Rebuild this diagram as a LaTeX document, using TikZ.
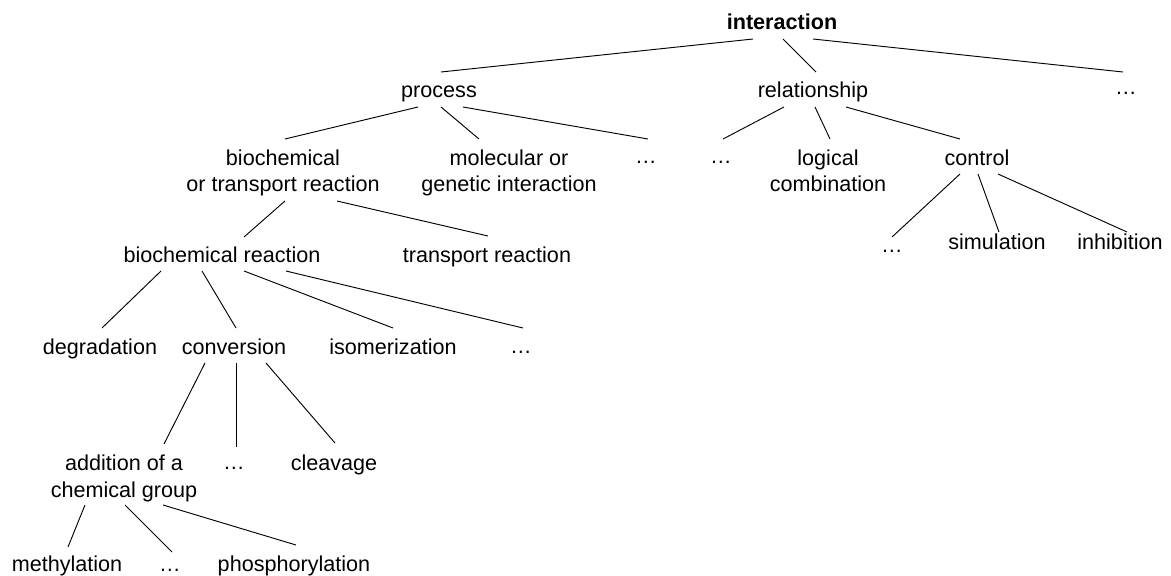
\documentclass[tikz,border=0pt]{standalone}
\usepackage{fontspec}
\setmainfont{Liberation Sans}
\begin{document}
\begin{tikzpicture}[x=0.75pt,y=-0.75pt,
  lbl/.style={anchor=base,inner sep=0pt,outer sep=0pt,align=center,
    font=\fontsize{16.2}{20}\selectfont},
  edge/.style={draw=black,line width=0.7pt}]
\useasboundingbox (0,0) rectangle (1171,575);
% nodes (two-line nodes are placed by the baseline of their last line)
\node[lbl,font=\fontsize{16.2}{20}\selectfont\bfseries] (inter) at (782,29.3) {interaction};
\node[lbl] (proc) at (439,97) {process};
\node[lbl] (rel) at (813,97) {relationship};
\node[lbl] (dotsA) at (1126,94) {…};
\node[lbl] (bt) at (283,191.7) {biochemical\\or transport reaction};
\node[lbl] (mg) at (509,191.7) {molecular or\\genetic interaction};
\node[lbl] (dotsB) at (646,163) {…};
\node[lbl] (dotsC) at (721,163) {…};
\node[lbl] (lc) at (828,191.7) {logical\\combination};
\node[lbl] (ctrl) at (977,165.7) {control};
\node[lbl] (br) at (222,262) {biochemical reaction};
\node[lbl] (tr) at (487,262) {transport reaction};
\node[lbl] (dotsD) at (892,252) {…};
\node[lbl] (sim) at (997,249) {simulation};
\node[lbl] (inh) at (1120,249) {inhibition};
\node[lbl] (deg) at (100,354) {degradation};
\node[lbl] (conv) at (234,354) {conversion};
\node[lbl] (iso) at (393,354) {isomerization};
\node[lbl] (dotsE) at (521,353) {…};
\node[lbl] (add) at (124,497) {addition of a\\chemical group};
\node[lbl] (dotsF) at (234,469) {…};
\node[lbl] (clv) at (334,470.7) {cleavage};
\node[lbl] (meth) at (67,571) {methylation};
\node[lbl] (dotsG) at (170,571) {…};
\node[lbl] (phos) at (294,571) {phosphorylation};
% connectors
\path[edge] ([shift={(-29,9.7)}]inter.base) -- ([shift={(2,-25)}]proc.base);
\path[edge] ([shift={(1,9.7)}]inter.base) -- ([shift={(3,-25)}]rel.base);
\path[edge] ([shift={(31,9.7)}]inter.base) -- ([shift={(-3,-22)}]dotsA.base);
\path[edge] ([shift={(-21,10)}]proc.base) -- ([shift={(2,-52.7)}]bt.base);
\path[edge] ([shift={(2,10)}]proc.base) -- ([shift={(-30,-52.7)}]mg.base);
\path[edge] ([shift={(24,10)}]proc.base) -- ([shift={(2,-24)}]dotsB.base);
\path[edge] ([shift={(-29,10)}]rel.base) -- ([shift={(2,-24)}]dotsC.base);
\path[edge] ([shift={(2,10)}]rel.base) -- ([shift={(2,-52.7)}]lc.base);
\path[edge] ([shift={(33,10)}]rel.base) -- ([shift={(-17,-26.7)}]ctrl.base);
\path[edge] ([shift={(-17,8.3)}]ctrl.base) -- ([shift={(0,-15)}]dotsD.base);
\path[edge] ([shift={(1,8.3)}]ctrl.base) -- ([shift={(2,-17)}]sim.base);
\path[edge] ([shift={(21,8.3)}]ctrl.base) -- ([shift={(7,-17)}]inh.base);
\path[edge] ([shift={(2,9.3)}]bt.base) -- ([shift={(22,-25)}]br.base);
\path[edge] ([shift={(54,9.3)}]bt.base) -- ([shift={(1,-26)}]tr.base);
\path[edge] ([shift={(-61,9)}]br.base) -- ([shift={(2,-26)}]deg.base);
\path[edge] ([shift={(-20,9)}]br.base) -- ([shift={(2,-26)}]conv.base);
\path[edge] ([shift={(22,9)}]br.base) -- ([shift={(0,-26)}]iso.base);
\path[edge] ([shift={(64,9)}]br.base) -- ([shift={(2,-25)}]dotsE.base);
\path[edge] ([shift={(-29,9)}]conv.base) -- ([shift={(40,-53)}]add.base);
\path[edge] ([shift={(2,9)}]conv.base) -- ([shift={(2,-22)}]dotsF.base);
\path[edge] ([shift={(32,9)}]conv.base) -- ([shift={(1,-27.7)}]clv.base);
\path[edge] ([shift={(-39,8)}]add.base) -- ([shift={(1,-24)}]meth.base);
\path[edge] ([shift={(1,8)}]add.base) -- ([shift={(2,-19)}]dotsG.base);
\path[edge] ([shift={(39,8)}]add.base) -- ([shift={(2,-26)}]phos.base);
\end{tikzpicture}
\end{document}
